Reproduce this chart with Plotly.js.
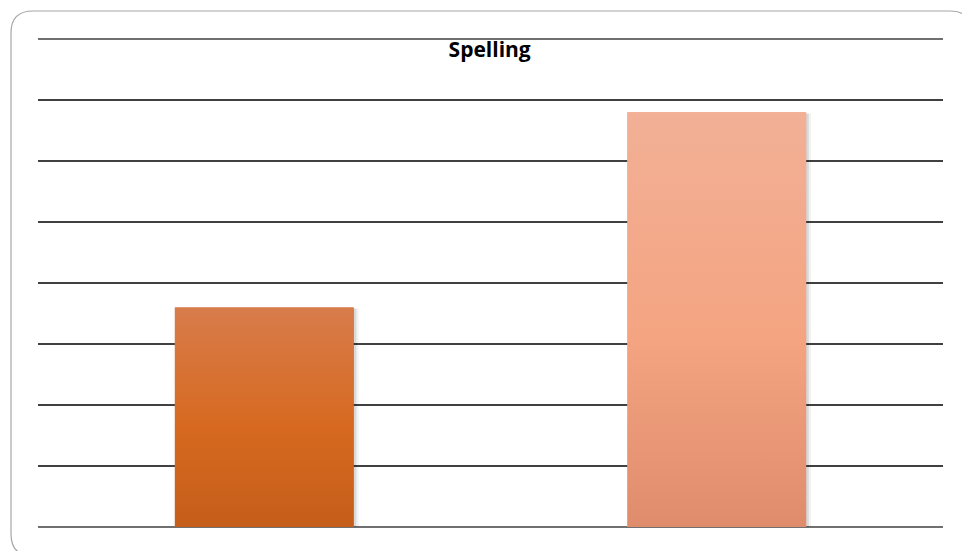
<!DOCTYPE html>
<html>
<head>
<meta charset="utf-8">
<script src="https://cdn.plot.ly/plotly-3.0.1.min.js"></script>
<style>
html,body{margin:0;padding:0;background:#fff;}
#chart{width:962px;height:551px;}
</style>
</head>
<body>
<div id="chart"></div>
<script>
// Data
var categories = ["Group 1", "Group 2"];
var values = [3.6, 6.8];
var barColors = ["#D46A2A", "#EFA07E"];
var gradientStops = [
  [[0, '#C55E1A'], [0.45, '#D6691F'], [1, '#D87C4C']],
  [[0, '#DF8C6D'], [0.45, '#F4A481'], [1, '#F2B096']]
];
var chartTitle = "Spelling";

// Plot-area geometry in pixels (for the frame shape)
var W = 962, H = 551;
var mL = 38, mR = 19, mT = 39, mB = 24;
var pw = W - mL - mR, ph = H - mT - mB;
function px(x){ return (x - mL) / pw; }
function py(y){ return (H - mB - y) / ph; }

// Rounded frame
var fx0 = 11, fy0 = 11, fx1 = 972, fy1 = 556, r = 22;
var framePath =
  'M ' + px(fx0 + r) + ',' + py(fy0) +
  ' L ' + px(fx1 - r) + ',' + py(fy0) +
  ' Q ' + px(fx1) + ',' + py(fy0) + ' ' + px(fx1) + ',' + py(fy0 + r) +
  ' L ' + px(fx1) + ',' + py(fy1 - r) +
  ' Q ' + px(fx1) + ',' + py(fy1) + ' ' + px(fx1 - r) + ',' + py(fy1) +
  ' L ' + px(fx0 + r) + ',' + py(fy1) +
  ' Q ' + px(fx0) + ',' + py(fy1) + ' ' + px(fx0) + ',' + py(fy1 - r) +
  ' L ' + px(fx0) + ',' + py(fy0 + r) +
  ' Q ' + px(fx0) + ',' + py(fy0) + ' ' + px(fx0 + r) + ',' + py(fy0) + ' Z';

var barWidth = 0.395;
var idx = categories.map(function(c, i){ return i; });

var traces = [];
// soft shadow to the right of each bar
[0.006, 0.011].forEach(function(off, k){
  idx.forEach(function(i){
    var x0 = i - barWidth / 2 + off, x1 = i + barWidth / 2 + off;
    traces.push({
      type: 'scatter', mode: 'lines', fill: 'toself',
      x: [x0, x1, x1, x0, x0], y: [0, 0, values[i] - 0.02, values[i] - 0.02, 0],
      line: { width: 0 }, fillcolor: k === 0 ? 'rgba(0,0,0,0.10)' : 'rgba(0,0,0,0.05)',
      hoverinfo: 'skip'
    });
  });
});
// the bars themselves
traces.push({
  type: 'bar',
  x: idx,
  y: values,
  width: barWidth,
  marker: { color: barColors, line: { width: 0 } },
  hovertext: categories,
  hoverinfo: 'text+y'
});
// vertical gradient face over each bar
idx.forEach(function(i){
  var x0 = i - barWidth / 2, x1 = i + barWidth / 2;
  traces.push({
    type: 'scatter', mode: 'lines', fill: 'toself',
    x: [x0, x1, x1, x0, x0], y: [0, 0, values[i], values[i], 0],
    line: { width: 0 },
    fillgradient: { type: 'vertical', colorscale: gradientStops[i], start: 0, stop: values[i] },
    hoverinfo: 'skip'
  });
});

var layout = {
  width: W, height: H,
  margin: { l: mL, r: mR, t: mT, b: mB, pad: 0 },
  paper_bgcolor: '#ffffff',
  plot_bgcolor: '#ffffff',
  showlegend: false,
  title: {
    text: '<b>' + chartTitle + '</b>',
    font: { family: 'Open Sans, sans-serif', size: 21, color: '#000000' },
    x: 0.509, xref: 'container', xanchor: 'center',
    y: 1 - 50 / H, yref: 'container', yanchor: 'middle'
  },
  xaxis: {
    type: 'linear',
    range: [-0.5, 1.5],
    tickvals: idx,
    ticktext: categories,
    showticklabels: false,
    showgrid: false,
    zeroline: false,
    showline: false,
    ticks: ''
  },
  yaxis: {
    range: [0, 8],
    dtick: 1,
    showticklabels: false,
    showgrid: true,
    gridcolor: '#404040',
    gridwidth: 1.5,
    zeroline: false,
    showline: false,
    ticks: ''
  },
  shapes: [
    { type: 'path', xref: 'paper', yref: 'paper', path: framePath,
      line: { color: '#A6A6A6', width: 1.2 }, fillcolor: 'rgba(0,0,0,0)', layer: 'below' },
    { type: 'line', xref: 'paper', yref: 'paper', x0: 0, x1: 1, y0: 0, y1: 0,
      line: { color: '#404040', width: 1.5 }, layer: 'below' },
    { type: 'line', xref: 'paper', yref: 'paper', x0: 0, x1: 1, y0: 1, y1: 1,
      line: { color: '#404040', width: 1.5 }, layer: 'below' }
  ]
};

Plotly.newPlot('chart', traces, layout, { displayModeBar: false, staticPlot: true });
</script>
</body>
</html>
